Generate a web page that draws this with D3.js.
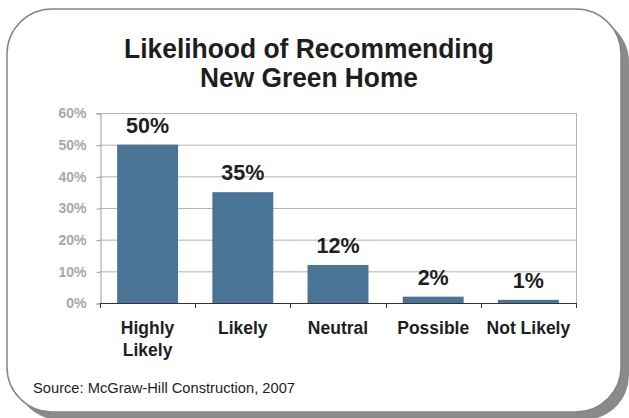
<!DOCTYPE html>
<html>
<head>
<meta charset="utf-8">
<script src="https://cdn.jsdelivr.net/npm/d3@7"></script>
<style>
  html, body { margin: 0; padding: 0; background: #fff; }
  svg { display: block; font-family: "Liberation Sans", Arial, Helvetica, sans-serif; }
</style>
</head>
<body>
<svg id="chart" width="629" height="418"></svg>
<script>
// Survey responses, percent of respondents
const categories = ["Highly Likely", "Likely", "Neutral", "Possible", "Not Likely"];
const categoryLines = [["Highly", "Likely"], ["Likely"], ["Neutral"], ["Possible"], ["Not Likely"]];
const values = [50, 35, 12, 2, 1];
const yTicks = [0, 10, 20, 30, 40, 50, 60];
const titleLines = ["Likelihood of Recommending", "New Green Home"];
const sourceText = "Source: McGraw-Hill Construction, 2007";

const svg = d3.select("#chart");

// Rounded panel with drop shadow
const panel = { x: 7, y: 9, w: 614, h: 403, r: 45 };
svg.append("rect")
  .attr("x", panel.x + 8).attr("y", panel.y + 8)
  .attr("width", panel.w).attr("height", panel.h)
  .attr("rx", panel.r).attr("ry", panel.r)
  .attr("fill", "#8a8a8a");
svg.append("rect")
  .attr("x", panel.x).attr("y", panel.y)
  .attr("width", panel.w).attr("height", panel.h)
  .attr("rx", panel.r).attr("ry", panel.r)
  .attr("fill", "#fff")
  .attr("stroke", "#858585")
  .attr("stroke-width", 1.5);

// Title (slightly condensed, tall lettering)
svg.append("g")
  .selectAll("text").data(titleLines).join("text")
  .attr("x", 309).attr("y", (d, i) => 58 + i * 29)
  .attr("text-anchor", "middle")
  .attr("font-size", 28).attr("font-weight", "bold").attr("fill", "#1e1e1e")
  .attr("textLength", (d, i) => i === 0 ? 370 : 218)
  .attr("lengthAdjust", "spacingAndGlyphs")
  .text(d => d);

// Plot area
const plot = { left: 100, right: 576, top: 113, bottom: 303 };

const x = d3.scaleBand()
  .domain(categories)
  .range([plot.left, plot.right])
  .paddingInner(0.36)
  .paddingOuter(0.18);

const y = d3.scaleLinear()
  .domain([0, 60])
  .range([plot.bottom, plot.top]);

// Horizontal gridlines
svg.append("g")
  .selectAll("line").data(yTicks.filter(t => t > 0)).join("line")
  .attr("x1", plot.left).attr("x2", plot.right)
  .attr("y1", d => y(d) + 0.5).attr("y2", d => y(d) + 0.5)
  .attr("stroke", "#b4b4b4").attr("stroke-width", 1);

// Right frame line
svg.append("line")
  .attr("x1", plot.right + 0.5).attr("x2", plot.right + 0.5)
  .attr("y1", plot.top).attr("y2", plot.bottom)
  .attr("stroke", "#b4b4b4");

// Y axis
const yAxis = svg.append("g")
  .attr("transform", `translate(${plot.left + 0.5},0.5)`)
  .call(d3.axisLeft(y).tickValues(yTicks).tickFormat(d => d + "%").tickSize(4).tickPadding(10));
yAxis.select(".domain").attr("stroke", "#9a9a9a");
yAxis.selectAll(".tick line").attr("stroke", "#9a9a9a");
yAxis.selectAll(".tick text")
  .attr("fill", "#a8a8a8")
  .attr("font-size", 14)
  .attr("font-weight", "bold")
  .attr("font-family", "'Liberation Sans', Arial, sans-serif");

// Bars
svg.append("g")
  .selectAll("rect").data(values).join("rect")
  .attr("x", (d, i) => x(categories[i]))
  .attr("y", d => y(d))
  .attr("width", x.bandwidth())
  .attr("height", d => y(0) - y(d))
  .attr("fill", "#4b7596");

// Value labels
svg.append("g")
  .selectAll("text").data(values).join("text")
  .attr("x", (d, i) => x(categories[i]) + x.bandwidth() / 2)
  .attr("y", d => y(d) - 12)
  .attr("text-anchor", "middle")
  .attr("font-size", 21.5).attr("font-weight", "bold").attr("fill", "#1e1e1e")
  .text(d => d + "%");

// X axis line with boundary ticks
svg.append("line")
  .attr("x1", plot.left).attr("x2", plot.right + 1)
  .attr("y1", plot.bottom + 0.5).attr("y2", plot.bottom + 0.5)
  .attr("stroke", "#333");
const bounds = d3.range(categories.length + 1).map(i => plot.left + (plot.right - plot.left) * i / categories.length);
svg.append("g")
  .selectAll("line").data(bounds).join("line")
  .attr("x1", d => Math.round(d) + 0.5).attr("x2", d => Math.round(d) + 0.5)
  .attr("y1", plot.bottom).attr("y2", plot.bottom + 5)
  .attr("stroke", "#333");

// Category labels
svg.append("g")
  .selectAll("text").data(categories).join("text")
  .attr("x", d => x(d) + x.bandwidth() / 2)
  .attr("y", 334)
  .attr("text-anchor", "middle")
  .attr("font-size", 17.5).attr("font-weight", "bold").attr("fill", "#1e1e1e")
  .each(function(d, i) {
    const cx = x(d) + x.bandwidth() / 2;
    d3.select(this).selectAll("tspan").data(categoryLines[i]).join("tspan")
      .attr("x", cx).attr("dy", (t, j) => j === 0 ? 0 : 22)
      .text(t => t);
  });

// Source note
svg.append("text")
  .attr("x", 33).attr("y", 393)
  .attr("font-size", 14.7).attr("fill", "#1e1e1e")
  .text(sourceText);
</script>
</body>
</html>
